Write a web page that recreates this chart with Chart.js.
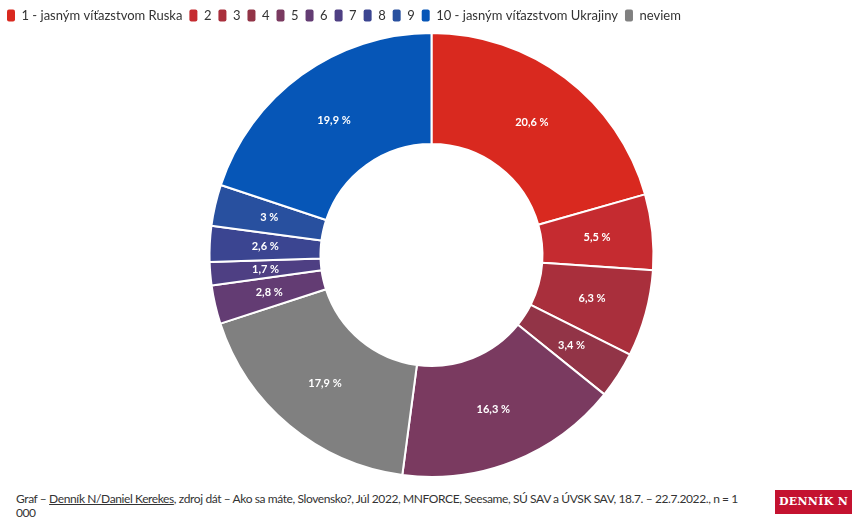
<!DOCTYPE html>
<html>
<head>
<meta charset="utf-8">
<script src="https://cdn.jsdelivr.net/npm/chart.js@4/dist/chart.umd.min.js"></script>
<style>
  body { margin: 0; background: #fff; font-family: Lato, "Open Sans", sans-serif; }
  #wrap { position: relative; width: 863px; height: 486px; }
  #footer { position: absolute; left: 16px; top: 492px; width: 726px; font-size: 12px; line-height: 14px; color: #333; font-family: Lato, sans-serif; letter-spacing: -0.4px; }
  #footer u { text-decoration: underline; }
  #logo { position: absolute; left: 775px; top: 490px; width: 77px; height: 24px; background: #c41230; color: #fff; font-family: "DejaVu Serif", "Liberation Serif", serif; font-weight: bold; font-size: 11px; line-height: 24px; text-align: center; letter-spacing: 0.3px; }
</style>
</head>
<body>
<div id="wrap"><canvas id="donut-chart"></canvas></div>
<div id="footer">Graf – <u>Denník N/Daniel Kerekes</u>, zdroj dát – Ako sa máte, Slovensko?, Júl 2022, MNFORCE, Seesame, SÚ SAV a ÚVSK SAV, 18.7. – 22.7.2022., n = 1 000</div>
<div id="logo">DENNÍK N</div>
<script>
const labels = ['1 - jasným víťazstvom Ruska', '2', '3', '4', '5', 'neviem', '6', '7', '8', '9', '10 - jasným víťazstvom Ukrajiny'];
const values = [20.6, 5.5, 6.3, 3.4, 16.3, 17.9, 2.8, 1.7, 2.6, 3, 19.9];
const colors = ['#d9291f', '#c52b30', '#a92f3c', '#923447', '#7a3a60', '#808080', '#633c73', '#4e3f83', '#3b4591', '#28509f', '#0656b7'];

const canvasChart = document.querySelector('#donut-chart');

// white percentage labels in the middle of each slice
const sliceLabels = {
  id: 'sliceLabels',
  afterDatasetsDraw(chart) {
    const ctx = chart.ctx;
    const meta = chart.getDatasetMeta(0);
    ctx.save();
    ctx.fillStyle = '#fff';
    ctx.font = 'bold 11px Lato, sans-serif';
    ctx.textAlign = 'center';
    ctx.textBaseline = 'middle';
    meta.data.forEach((arc, i) => {
      const p = arc.tooltipPosition();
      ctx.fillText(String(values[i]).replace('.', ',') + ' %', p.x, p.y);
    });
    ctx.restore();
  }
};

const legendOrder = ['1 - jasným víťazstvom Ruska', '2', '3', '4', '5', '6', '7', '8', '9', '10 - jasným víťazstvom Ukrajiny', 'neviem'];

let config = {
  type: 'doughnut',
  data: {
    labels: labels,
    datasets: [
      {
        data: values,
        backgroundColor: colors,
        borderColor: '#fff',
        borderWidth: 2,
      },
    ],
  },
  options: {
    responsive: false,
    animation: false,
    cutout: '50%',
    layout: { padding: { top: 2, bottom: 8 } },
    plugins: {
      tooltip: { enabled: false },
      legend: {
        position: 'top',
        align: 'start',
        labels: {
          useBorderRadius: true,
          borderRadius: 2,
          boxWidth: 8,
          boxHeight: 12,
          padding: 7,
          color: '#333',
          font: { size: 13, family: 'Lato, sans-serif' },
          generateLabels: (chart) => {
            const items = Chart.overrides.doughnut.plugins.legend.labels.generateLabels(chart);
            items.forEach((it) => { it.lineWidth = 0; });
            return items;
          },
          sort: (a, b) => legendOrder.indexOf(a.text) - legendOrder.indexOf(b.text),
        },
      },
    },
  },
  plugins: [sliceLabels],
};

canvasChart.width = 863;
canvasChart.height = 486;
let chart = new Chart(canvasChart, config);
</script>
</body>
</html>
